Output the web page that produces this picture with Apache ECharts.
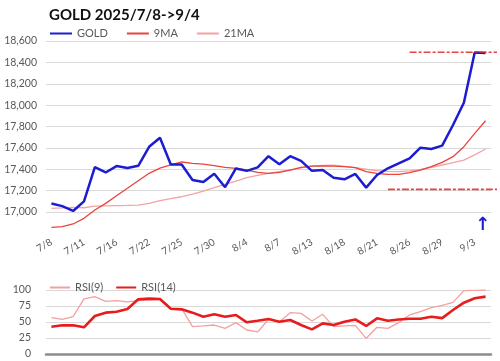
<!DOCTYPE html>
<html>
<head>
<meta charset="utf-8">
<script src="https://cdn.jsdelivr.net/npm/echarts@6/dist/echarts.min.js"></script>
<style>html,body{margin:0;padding:0;background:#fff;}#c{width:500px;height:361px;}</style>
</head>
<body>
<div id="c"></div>
<script>
const dates = ['7/8','7/9','7/10','7/11','7/14','7/15','7/16','7/17','7/18','7/22','7/23','7/24','7/25','7/28','7/29','7/30','7/31','8/1','8/4','8/5','8/6','8/7','8/8','8/12','8/13','8/14','8/15','8/18','8/19','8/20','8/21','8/22','8/25','8/26','8/27','8/28','8/29','9/1','9/2','9/3','9/4'];
const gold = [17080,17055,17010,17100,17420,17370,17430,17412,17432,17610,17695,17445,17445,17300,17280,17358,17232,17408,17385,17418,17522,17447,17522,17478,17385,17393,17321,17306,17356,17228,17346,17409,17456,17502,17602,17590,17621,17814,18023,18493,18487];
const ma9 = [16857,16863,16888,16941,17019,17081,17153,17222,17293,17362,17410,17440,17468,17455,17449,17435,17418,17409,17393,17370,17362,17371,17393,17418,17430,17432,17430,17424,17415,17377,17362,17353,17353,17368,17393,17424,17465,17518,17611,17736,17854];
const ma21 = [17034,17038,17044,17040,17056,17058,17060,17062,17065,17081,17106,17125,17143,17168,17196,17228,17259,17290,17321,17342,17362,17378,17393,17412,17430,17437,17438,17428,17415,17400,17387,17380,17377,17385,17399,17418,17440,17462,17486,17535,17590];
const rsi9 = [56.8,54,58.3,86,89.6,82.3,83.3,81.3,83.3,84.4,85.4,71.3,71,42.7,43.8,45.3,40.1,49,37.5,34.4,54,50.5,64.6,63.5,51.6,62,42.7,43.8,44.8,24.5,41.7,40.1,49,61,66.1,72.4,76,80.7,99,99.5,100];
const rsi14 = [42.7,44.8,45,41.7,59.4,64.6,66.1,70.3,85.4,86.5,86,70.8,69.8,64.6,58.3,62,58.3,61,49.5,52,54.7,50.5,53.1,45.3,38.5,47.9,45.3,50.5,54,43.8,55.7,52,54,55,55,58.3,56,68.8,80.2,87,89.6];
const levels = [18495, 17212];
const levelStartIdx = [32.8, 31.0];
const arrowValue = 16880;
const titleText = 'GOLD 2025/7/8->9/4';

const FONT = 'Lato';
const chart = echarts.init(document.getElementById('c'), null, {renderer: 'canvas'});
const gridCol = '#d9d9d9';
const txtCol = '#595959';

const option = {
  animation: false,
  backgroundColor: '#fff',
  textStyle: {fontFamily: FONT},
  title: {text: titleText, left: 44, top: 3, textStyle: {fontFamily: FONT, fontSize: 15, fontWeight: 'bold', color: '#111'}},
  legend: [
    {data: ['GOLD','9MA','21MA'], left: 44, top: 23, itemWidth: 22, itemHeight: 10, itemGap: 18,
     itemStyle: {opacity: 0},
     textStyle: {fontFamily: FONT, fontSize: 11, color: txtCol}},
    {data: ['RSI(9)','RSI(14)'], left: 44, top: 277, itemWidth: 20, itemHeight: 10, itemGap: 12,
     itemStyle: {opacity: 0},
     textStyle: {fontFamily: FONT, fontSize: 11, color: txtCol}}
  ],
  grid: [
    {left: 46, right: 9, top: 41, bottom: 127.6},
    {left: 46, right: 9, top: 290, bottom: 7}
  ],
  xAxis: [
    {type: 'category', gridIndex: 0, data: dates, boundaryGap: true,
     axisLine: {show: false}, axisTick: {show: false},
     axisLabel: {interval: 2, rotate: 30, fontSize: 10, color: txtCol, fontFamily: FONT, margin: 8}},
    {type: 'category', gridIndex: 1, data: dates, boundaryGap: true,
     axisLine: {show: true, lineStyle: {color: '#8c8c8c', width: 2.5}}, axisTick: {show: false},
     axisLabel: {show: false}}
  ],
  yAxis: [
    {type: 'value', gridIndex: 0, min: 16800, max: 18600, interval: 200,
     axisLine: {show: false}, axisTick: {show: false},
     axisLabel: {fontSize: 10.5, color: txtCol, fontFamily: FONT, margin: 9,
       formatter: v => v <= 16800 ? '' : v.toLocaleString('en-US')},
     splitLine: {show: true, lineStyle: {color: ['rgba(0,0,0,0)', gridCol, gridCol, gridCol, gridCol, gridCol, gridCol, gridCol, gridCol, gridCol], width: 1}}},
    {type: 'value', gridIndex: 1, min: 0, max: 100, interval: 25,
     axisLine: {show: false}, axisTick: {show: false},
     axisLabel: {fontSize: 10.5, color: txtCol, fontFamily: FONT, margin: 15},
     splitLine: {show: true, lineStyle: {color: gridCol, width: 1}}}
  ],
  series: [
    {name: '21MA', type: 'line', xAxisIndex: 0, yAxisIndex: 0, data: ma21, symbol: 'none',
     lineStyle: {color: '#f4a3a3', width: 1.3}, itemStyle: {color: '#f4a3a3'}},
    {name: '9MA', type: 'line', xAxisIndex: 0, yAxisIndex: 0, data: ma9, symbol: 'none',
     lineStyle: {color: '#e8443e', width: 1.3}, itemStyle: {color: '#e8443e'}},
    {name: 'GOLD', type: 'line', xAxisIndex: 0, yAxisIndex: 0, data: gold, symbol: 'none',
     lineStyle: {color: '#1c1cd2', width: 2.5}, itemStyle: {color: '#1c1cd2'}},
    {name: 'RSI(9)', type: 'line', xAxisIndex: 1, yAxisIndex: 1, data: rsi9, symbol: 'none',
     lineStyle: {color: '#f4a0a0', width: 1.3}, itemStyle: {color: '#f4a0a0'}},
    {name: 'RSI(14)', type: 'line', xAxisIndex: 1, yAxisIndex: 1, data: rsi14, symbol: 'none',
     lineStyle: {color: '#e81c1c', width: 2.6}, itemStyle: {color: '#e81c1c'}}
  ]
};
chart.setOption(option);

// annotations placed through the axes' own scales
const gridRight = 500 - 9;
const graphics = [];
levels.forEach((lv, i) => {
  const p0 = chart.convertToPixel({xAxisIndex: 0, yAxisIndex: 0}, [levelStartIdx[i], lv]);
  graphics.push({type: 'line', shape: {x1: p0[0], y1: p0[1], x2: gridRight + 6, y2: p0[1]},
    style: {stroke: '#e02424', lineWidth: 1.6, lineDash: [7, 2, 3, 2], opacity: 0.85}, z: 10});
});
const pa = chart.convertToPixel({xAxisIndex: 0, yAxisIndex: 0}, [dates.length - 1, arrowValue]);
graphics.push({type: 'text', x: pa[0] - 3, y: pa[1], z: 10,
  style: {text: '↑', fill: '#1c1cd2', font: 'bold 18px "DejaVu Sans"', align: 'center', verticalAlign: 'middle'}});
chart.setOption({graphic: graphics});
</script>
</body>
</html>
